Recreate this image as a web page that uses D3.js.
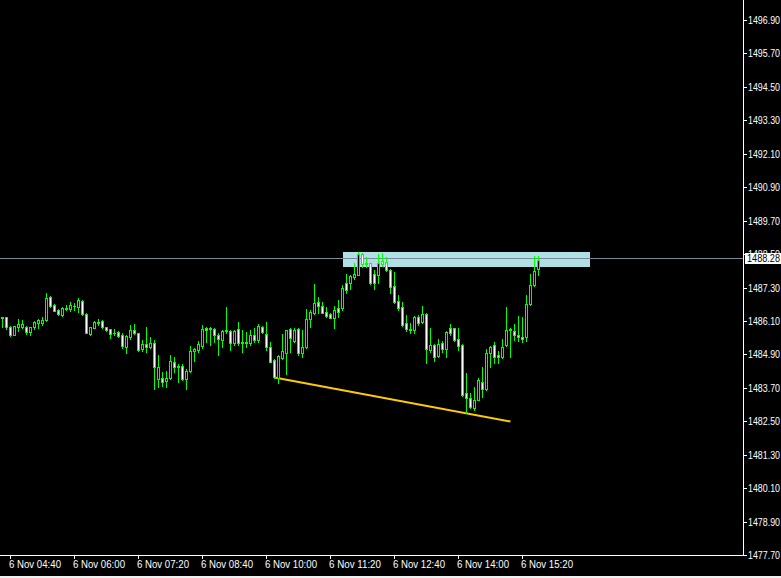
<!DOCTYPE html>
<html><head><meta charset="utf-8">
<script src="https://cdn.jsdelivr.net/npm/d3@7/dist/d3.min.js"></script>
<style>html,body{margin:0;padding:0;background:#000;overflow:hidden}svg{display:block}</style>
</head><body>
<script>
// ---- data (5-minute bars, 6 Nov 04:30 .. 15:40) ----
const startTime = "2019-11-06T04:30:00";
const barMinutes = 5;
const opens = [1486.23,1486.23,1485.89,1485.59,1485.89,1485.89,1485.87,1485.71,1485.89,1486.04,1486.04,1486.13,1486.95,1486.67,1486.49,1486.30,1486.52,1486.52,1486.62,1486.61,1486.81,1486.35,1485.63,1485.86,1486.01,1486.08,1485.87,1485.80,1485.67,1485.70,1485.61,1485.17,1485.51,1485.77,1485.65,1485.08,1485.27,1485.17,1485.30,1484.03,1484.04,1483.95,1484.04,1484.62,1484.50,1484.50,1484.03,1484.31,1485.01,1485.06,1485.20,1485.83,1485.81,1485.80,1485.61,1485.41,1485.75,1485.75,1485.30,1485.80,1485.34,1485.31,1485.30,1485.59,1485.41,1485.87,1485.62,1485.15,1484.70,1484.07,1484.77,1484.96,1485.80,1485.39,1485.80,1484.96,1485.15,1486.16,1486.40,1486.79,1486.63,1486.43,1486.34,1486.19,1486.55,1486.55,1487.45,1487.45,1487.69,1487.76,1488.52,1488.14,1488.17,1487.78,1487.76,1488.26,1488.23,1487.93,1487.35,1486.81,1486.59,1486.01,1485.80,1485.77,1486.23,1486.07,1486.35,1485.05,1485.23,1484.85,1485.32,1485.11,1485.83,1485.83,1485.44,1485.23,1483.50,1483.32,1482.99,1483.28,1483.92,1483.64,1484.96,1485.22,1484.88,1484.79,1485.22,1485.77,1485.75,1485.60,1485.53,1485.51,1486.69,1487.38,1487.95];
const highs = [1486.23,1486.24,1485.92,1485.92,1486.16,1486.13,1485.92,1485.89,1486.11,1486.18,1486.23,1487.09,1486.99,1486.70,1486.52,1486.59,1486.67,1486.78,1486.75,1486.91,1486.85,1486.37,1485.89,1486.08,1486.17,1486.13,1485.89,1485.82,1485.80,1485.73,1485.65,1485.59,1485.95,1485.99,1485.68,1485.41,1485.89,1485.53,1485.41,1484.88,1484.28,1484.30,1484.88,1484.79,1484.55,1484.55,1484.36,1485.20,1485.12,1485.38,1485.95,1485.87,1485.87,1485.86,1485.65,1485.77,1486.61,1485.77,1485.77,1486.07,1485.77,1485.71,1485.77,1485.86,1485.99,1485.92,1486.07,1485.35,1484.72,1484.88,1485.63,1485.77,1485.86,1485.83,1485.83,1485.77,1486.52,1486.49,1487.42,1486.95,1486.79,1486.61,1486.37,1486.63,1486.85,1487.39,1487.78,1487.75,1488.17,1488.57,1488.55,1488.38,1488.19,1487.93,1488.50,1488.55,1488.41,1487.95,1487.87,1487.03,1486.79,1486.31,1486.04,1486.28,1486.31,1486.63,1486.37,1485.83,1485.27,1485.44,1485.39,1485.75,1485.99,1485.83,1485.83,1485.27,1484.22,1483.50,1483.74,1484.04,1484.46,1485.08,1485.20,1485.33,1485.02,1485.44,1486.59,1485.83,1485.99,1486.28,1486.23,1487.03,1487.78,1488.43,1488.43];
const lows = [1485.89,1485.82,1485.56,1485.59,1485.75,1485.83,1485.63,1485.59,1485.80,1485.86,1485.95,1486.11,1486.61,1486.44,1486.30,1486.28,1486.49,1486.47,1486.49,1486.42,1486.31,1485.65,1485.61,1485.83,1485.95,1485.83,1485.75,1485.47,1485.59,1485.51,1485.12,1484.94,1485.44,1485.63,1485.03,1485.03,1485.00,1485.13,1483.67,1483.74,1483.76,1483.72,1484.00,1484.28,1483.92,1483.98,1483.67,1484.28,1484.67,1485.00,1485.14,1485.35,1485.23,1485.35,1484.88,1485.17,1485.65,1485.06,1485.23,1485.23,1485.00,1485.17,1485.23,1485.35,1485.35,1485.65,1485.06,1484.61,1484.07,1483.86,1484.74,1484.19,1485.00,1485.35,1484.88,1484.82,1485.12,1485.89,1486.34,1486.40,1486.37,1486.23,1486.19,1485.83,1486.25,1486.49,1487.09,1487.24,1487.59,1487.74,1488.05,1488.05,1487.42,1487.23,1487.47,1488.07,1487.90,1487.09,1486.73,1486.51,1485.92,1485.75,1485.68,1485.68,1485.95,1486.01,1484.58,1484.99,1484.67,1484.82,1484.99,1484.82,1485.59,1485.39,1485.05,1483.40,1482.78,1482.96,1482.90,1483.26,1483.38,1483.62,1484.46,1484.60,1484.60,1484.76,1485.20,1484.82,1485.41,1485.39,1485.35,1485.39,1486.67,1487.35,1487.75];
const closes = [1486.22,1485.89,1485.59,1485.92,1485.99,1485.99,1485.71,1485.89,1486.07,1486.13,1486.13,1486.91,1486.63,1486.47,1486.35,1486.56,1486.56,1486.66,1486.64,1486.85,1486.35,1485.68,1485.87,1486.06,1486.05,1485.87,1485.77,1485.63,1485.65,1485.56,1485.20,1485.56,1485.77,1485.65,1485.06,1485.27,1485.17,1485.32,1484.43,1484.43,1483.92,1484.07,1484.67,1484.43,1484.46,1484.00,1484.31,1485.02,1485.08,1485.27,1485.80,1485.79,1485.83,1485.59,1485.46,1485.74,1485.79,1485.30,1485.75,1485.30,1485.30,1485.35,1485.59,1485.41,1485.92,1485.69,1485.15,1484.64,1484.10,1484.84,1485.03,1485.77,1485.47,1485.77,1484.96,1485.15,1486.16,1486.42,1486.73,1486.63,1486.40,1486.28,1486.22,1486.49,1486.43,1487.27,1487.21,1487.71,1487.78,1488.52,1488.14,1488.17,1487.45,1487.47,1488.17,1488.14,1487.93,1487.33,1486.79,1486.57,1485.95,1485.80,1485.77,1486.23,1486.01,1486.35,1485.11,1485.22,1484.82,1485.29,1485.11,1485.71,1485.68,1485.41,1485.20,1483.44,1483.32,1483.02,1483.28,1483.98,1483.64,1484.96,1485.17,1484.82,1484.79,1485.17,1485.77,1485.80,1485.60,1485.51,1485.46,1486.69,1487.38,1487.90,1488.28];
const priceTicks = [1477.70,1478.90,1480.10,1481.30,1482.50,1483.70,1484.90,1486.10,1487.30,1488.50,1489.70,1490.90,1492.10,1493.30,1494.50,1495.70,1496.90];
const timeTicks = ["04:40","06:00","07:20","08:40","10:00","11:20","12:40","14:00","15:20"];
const currentPrice = 1488.28;
const zoneTimes = ["11:35","16:45"];
const zonePrices = [1488.57, 1488.03];
const trendTimes = ["10:10","15:05"];
const trendPrices = [1484.07, 1482.49];

// ---- layout ----
const W = 781, H = 578;
const plotRight = 743, plotBottom = 555;
const parse = d3.timeParse("%Y-%m-%dT%H:%M:%S");
const t0 = parse(startTime);
const atTime = s => parse("2019-11-06T" + s + ":00");
const n = closes.length;
const bars = d3.range(n).map(i => ({
  t: d3.timeMinute.offset(t0, i * barMinutes),
  o: opens[i], h: highs[i], l: lows[i], c: closes[i]
}));
const x = d3.scaleTime()
  .domain([t0, d3.timeMinute.offset(t0, (n - 1) * barMinutes)])
  .range([2.5, 2.5 + (n - 1) * 4]);
const y = d3.scaleLinear().domain([1477.70, 1496.90]).range([plotBottom, 20]);

const svg = d3.select("body").append("svg").attr("width", W).attr("height", H)
  .style("font-family", "'Liberation Sans', Arial, sans-serif").style("font-size", "10px");
svg.append("rect").attr("width", W).attr("height", H).attr("fill", "#000");

// zone rectangle
svg.append("rect")
  .attr("x", Math.round(x(atTime(zoneTimes[0])))).attr("y", Math.round(y(zonePrices[0])))
  .attr("width", Math.round(x(atTime(zoneTimes[1]))) - Math.round(x(atTime(zoneTimes[0]))))
  .attr("height", Math.round(y(zonePrices[1])) - Math.round(y(zonePrices[0])))
  .attr("fill", "#b0e0e6");

// current price line
const cpY = Math.round(y(currentPrice)) - 1.5;
svg.append("line").attr("x1", 0).attr("x2", plotRight).attr("y1", cpY).attr("y2", cpY)
  .attr("stroke", "#778899").attr("stroke-width", 1);

// trend line
svg.append("line")
  .attr("x1", x(atTime(trendTimes[0]))).attr("y1", y(trendPrices[0]))
  .attr("x2", x(atTime(trendTimes[1]))).attr("y2", y(trendPrices[1]))
  .attr("stroke", "#ffcc00").attr("stroke-width", 2);

// candles
const g = svg.append("g");
bars.forEach(b => {
  const cx = Math.floor(x(b.t)) + 0.5;
  g.append("line").attr("x1", cx).attr("x2", cx)
    .attr("y1", Math.round(y(b.h))).attr("y2", Math.round(y(b.l)) + 1)
    .attr("stroke", "#00ff00").attr("stroke-width", 1);
  const top = Math.round(y(Math.max(b.o, b.c)));
  const bot = Math.round(y(Math.min(b.o, b.c)));
  if (bot - top < 1) {
    g.append("line").attr("x1", cx - 1.5).attr("x2", cx + 1.5)
      .attr("y1", top + 0.5).attr("y2", top + 0.5)
      .attr("stroke", "#00ff00").attr("stroke-width", 1);
  } else {
    g.append("rect").attr("x", cx - 1).attr("width", 2)
      .attr("y", top + 0.5).attr("height", bot - top)
      .attr("fill", b.c >= b.o ? "#000" : "#fff")
      .attr("stroke", "#00ff00").attr("stroke-width", 1);
  }
});

// axes frame
svg.append("line").attr("x1", plotRight + 0.5).attr("x2", plotRight + 0.5).attr("y1", 0).attr("y2", plotBottom + 1)
  .attr("stroke", "#fff");
svg.append("line").attr("x1", 0).attr("x2", plotRight + 1).attr("y1", plotBottom + 0.5).attr("y2", plotBottom + 0.5)
  .attr("stroke", "#fff");

// price axis
const ya = svg.append("g");
priceTicks.forEach(p => {
  const yy = Math.round(y(p)) + 0.5;
  ya.append("line").attr("x1", plotRight + 1).attr("x2", plotRight + 4).attr("y1", yy).attr("y2", yy).attr("stroke", "#fff");
  ya.append("text").attr("x", 748).attr("y", yy + 3.5).attr("fill", "#fff")
    .attr("textLength", 32).attr("lengthAdjust", "spacingAndGlyphs").text(p.toFixed(2));
});

// time axis
const xa = svg.append("g");
timeTicks.forEach(s => {
  const xx = Math.floor(x(atTime(s))) + 0.5;
  xa.append("line").attr("x1", xx).attr("x2", xx).attr("y1", plotBottom + 1).attr("y2", plotBottom + 4).attr("stroke", "#fff");
  xa.append("text").attr("x", xx - 1.5).attr("y", 568).attr("fill", "#fff")
    .attr("textLength", 52).attr("lengthAdjust", "spacingAndGlyphs").text("6 Nov " + s);
});

// current price label
svg.append("rect").attr("x", 745).attr("y", cpY - 5.5).attr("width", 36).attr("height", 11).attr("fill", "#fff");
svg.append("text").attr("x", 747).attr("y", cpY + 3.5).attr("fill", "#000")
  .attr("textLength", 33).attr("lengthAdjust", "spacingAndGlyphs").text(currentPrice.toFixed(2));

// bottom window edge
svg.append("rect").attr("x", 0).attr("y", 576).attr("width", W).attr("height", 2).attr("fill", "#f0f0f0");
</script>
</body></html>
